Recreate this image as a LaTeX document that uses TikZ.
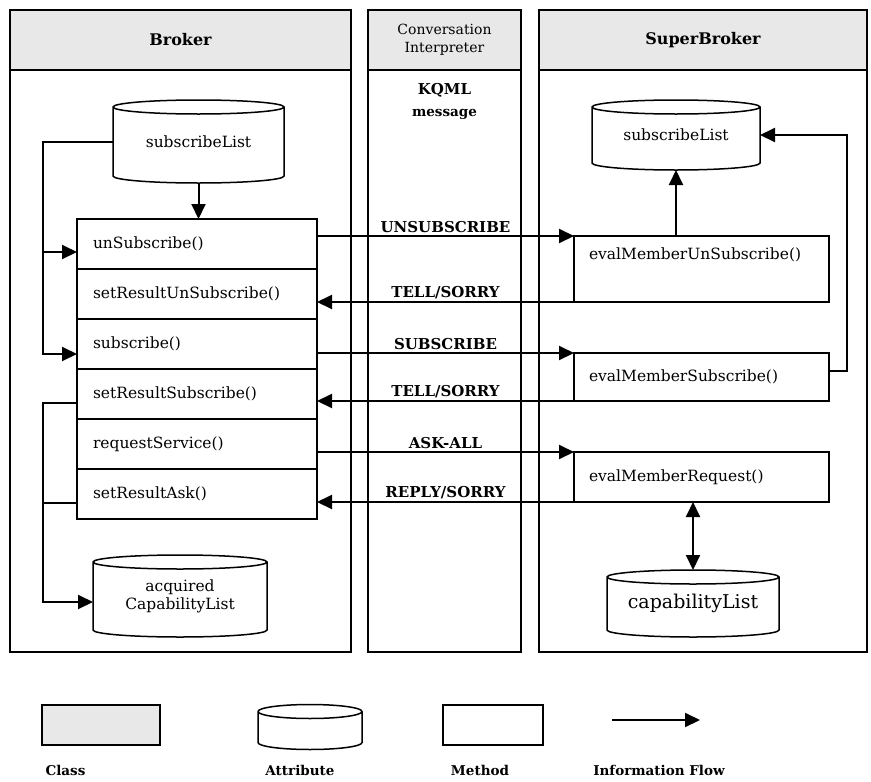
\documentclass[tikz,border=0pt]{standalone}
\usepackage{fontspec}
\setmainfont{DejaVu Serif}
\usepackage{xcolor}
\usepackage{tikz}
\usetikzlibrary{arrows.meta, positioning, calc}

\definecolor{hdrgray}{HTML}{E8E8E8}

\newcommand{\drawattr}[1]{%
  \draw[attrline] let \p1=($(#1.north east)-(#1.north west)$), \n1={0.275*\x1} in
    ($(#1.north west)+(0,-7)$) .. controls +(0,3.9) and +(-\n1,0) .. (#1.north)
    .. controls +(\n1,0) and +(0,3.9) .. ($(#1.north east)+(0,-7)$)
    -- ($(#1.south east)+(0,7)$)
    .. controls +(0,-3.9) and +(\n1,0) .. (#1.south)
    .. controls +(-\n1,0) and +(0,-3.9) .. ($(#1.south west)+(0,7)$) -- cycle
    ($(#1.north west)+(0,-7)$) .. controls +(0,-3.9) and +(-\n1,0) .. ($(#1.north)+(0,-14)$)
    .. controls +(\n1,0) and +(0,-3.9) .. ($(#1.north east)+(0,-7)$);}

\begin{document}
\begin{tikzpicture}[
    x=1pt, y=1pt,
    font=\fontsize{15.5}{18}\selectfont,
    classhead/.style={draw, fill=hdrgray, line width=1.5pt, minimum height=60pt,
      outer sep=0pt, font=\fontsize{16}{18}\selectfont\bfseries},
    classbody/.style={draw, line width=1.5pt, minimum height=582pt, outer sep=0pt},
    method/.style={draw, line width=1.5pt, minimum width=240pt, minimum height=50pt,
      text width=208pt, inner xsep=16pt, align=left, outer sep=0pt},
    evalbox/.style={draw, line width=1.5pt, minimum width=255pt, text width=225pt,
      inner xsep=15pt, align=left, outer sep=0pt},
    attr/.style={inner sep=0pt, outer sep=0pt, align=center},
    attrline/.style={line width=1.5pt},
    flow/.style={line width=2pt, ->, >={Triangle[length=15pt,width=14pt]}},
    spine/.style={line width=2pt},
    msg/.style={above, inner sep=2pt, font=\fontsize{15}{17}\selectfont\bfseries},
    keytext/.style={font=\fontsize{13.5}{15}\selectfont\bfseries}
]
\useasboundingbox (0,0) rectangle (871,-782);

% classes
\node[classhead, minimum width=341pt] (brokerhead) at (180.5,-40) {Broker};
\node[classbody, minimum width=341pt, below=0pt of brokerhead] (brokerbody) {};
\node[classhead, minimum width=153pt, align=center,
  font=\fontsize{14}{18}\selectfont] (convhead) at (444.5,-40) {Conversation\\Interpreter};
\node[classbody, minimum width=153pt, below=0pt of convhead] (convbody) {};
\node[classhead, minimum width=328pt] (superhead) at (703,-40) {SuperBroker};
\node[classbody, minimum width=328pt, below=0pt of superhead] (superbody) {};
\node[align=center, font=\fontsize{15}{22}\selectfont\bfseries] (kqml) at (444.5,-101)
  {KQML\\{\fontsize{13.5}{15}\selectfont message}};

% broker methods
\node[method] (unsub) at (197,-244) {unSubscribe()};
\node[method, below=0pt of unsub] (resunsub) {setResultUnSubscribe()};
\node[method, below=0pt of resunsub] (sub) {subscribe()};
\node[method, below=0pt of sub] (ressub) {setResultSubscribe()};
\node[method, below=0pt of ressub] (reqserv) {requestService()};
\node[method, below=0pt of reqserv] (resask) {setResultAsk()};

% superbroker methods
\node[evalbox, minimum height=66pt, text depth=30pt] (evunsub) at (701.5,-269) {evalMemberUnSubscribe()};
\node[evalbox, minimum height=48pt] (evsub) at (701.5,-377) {evalMemberSubscribe()};
\node[evalbox, minimum height=50pt] (evreq) at (701.5,-477) {evalMemberRequest()};

% attributes
\node[attr, minimum width=171pt, minimum height=83pt] (bsublist) at (198.5,-141.5) {subscribeList};
\node[attr, minimum width=174pt, minimum height=82pt] (acqlist) at (180,-596) {acquired\\CapabilityList};
\node[attr, minimum width=168pt, minimum height=70pt] (ssublist) at (676,-135) {subscribeList};
\node[attr, minimum width=172pt, minimum height=67pt,
  font=\fontsize{19}{21}\selectfont] (caplist) at (693,-603.5) {capabilityList};
\drawattr{bsublist}
\drawattr{acqlist}
\drawattr{ssublist}
\drawattr{caplist}

% broker internal flows
\coordinate (lspine) at (43,0);
\draw[flow] (bsublist.south) -- (bsublist.south |- unsub.north);
\draw[flow] (bsublist.west) -| ($(lspine |- sub.west)+(0,-10)$) -- ($(sub.west)+(0,-10)$);
\draw[flow] ($(lspine |- unsub.west)+(0,-8)$) -- ($(unsub.west)+(0,-8)$);
\draw[flow] ($(ressub.west)+(0,-9)$) -| ($(lspine |- acqlist.west)+(0,-6)$) -- ($(acqlist.west)+(0,-6)$);
\draw[spine] ($(resask.west)+(0,-9)$) -- ($(lspine |- resask.west)+(0,-9)$);

% KQML messages
\draw[flow] (unsub.east |- evunsub.north west) -- node[msg] {UNSUBSCRIBE} (evunsub.north west);
\draw[flow] (evunsub.south west) -- node[msg] {TELL/SORRY} (resunsub.east |- evunsub.south west);
\draw[flow] (sub.east |- evsub.north west) -- node[msg] {SUBSCRIBE} (evsub.north west);
\draw[flow] (evsub.south west) -- node[msg] {TELL/SORRY} (ressub.east |- evsub.south west);
\draw[flow] (reqserv.east |- evreq.north west) -- node[msg] {ASK-ALL} (evreq.north west);
\draw[flow] (evreq.south west) -- node[msg] {REPLY/SORRY} (resask.east |- evreq.south west);

% superbroker internal flows
\draw[flow] (ssublist.south |- evunsub.north) -- (ssublist.south);
\draw[flow] ($(evsub.east)+(0,6)$) -- ++(18,0) |- (ssublist.east);
\draw[flow, <->] (caplist.north |- evreq.south) -- (caplist.north);

% key
\node[classhead, minimum width=118pt, minimum height=40pt] (keyclass) at (101,-725) {};
\node[attr, minimum width=104pt, minimum height=45pt] (keyattr) at (310,-727) {};
\drawattr{keyattr}
\node[draw, line width=1.5pt, minimum width=100pt, minimum height=40pt] (keymethod) at (493,-725) {};
\coordinate (keyflowa) at (612,-720);
\coordinate (keyflowb) at (700,-720);
\draw[flow] (keyflowa) -- (keyflowb);
\node[keytext, anchor=west] (keyclasstxt) at (42,-770) {Class};
\node[keytext] (keyattrtxt) at (300,-770) {Attribute};
\node[keytext] (keymethodtxt) at (480,-770) {Method};
\node[keytext] (keyflowtxt) at (659,-770) {Information Flow};
\end{tikzpicture}
\end{document}
